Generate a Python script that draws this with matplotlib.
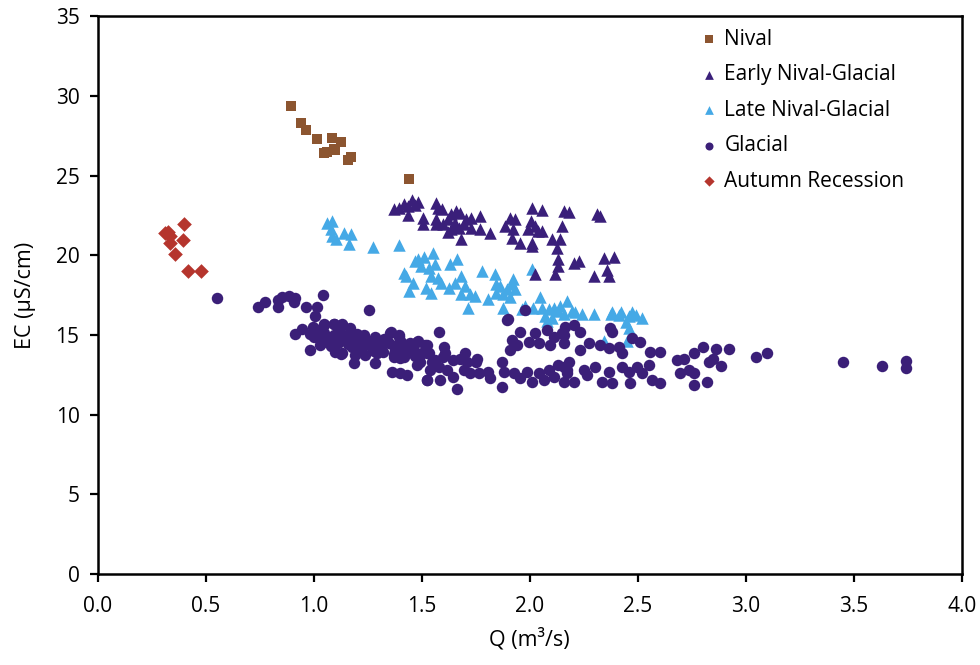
import matplotlib
matplotlib.use("Agg")
import matplotlib.pyplot as plt

plt.rcParams['font.family'] = ['Open Sans', 'DejaVu Sans']

# Nival
nival_q = [0.896, 0.943, 0.963, 1.014, 1.087, 1.126, 1.063, 1.094, 1.047, 1.172, 1.157, 1.10, 1.44]
nival_ec = [29.4, 28.3, 27.9, 27.3, 27.4, 27.1, 26.5, 26.7, 26.4, 26.2, 26.0, 26.6, 24.8]

# Autumn recession
autumn_q = [0.40, 0.312, 0.327, 0.335, 0.397, 0.335, 0.358, 0.417, 0.479]
autumn_ec = [22.0, 21.4, 21.5, 21.2, 21.0, 20.8, 20.1, 19.0, 19.0]

# Early Nival-Glacial
early_q = [1.374, 1.397, 1.420, 1.436, 1.454, 1.467, 1.482, 1.436, 1.505, 1.505,
           1.567, 1.575, 1.594, 1.567, 1.567, 1.622, 1.637, 1.660, 1.676, 1.653,
           1.637, 1.671, 1.696, 1.684, 1.707, 1.730, 1.769, 1.730, 1.769, 1.816,
           1.909, 1.932, 1.885, 1.924, 1.916, 1.955, 2.009, 2.059, 2.006, 1.994,
           2.025, 2.040, 2.059, 2.009, 2.009, 2.102, 2.141, 2.149, 2.126, 2.157,
           2.180, 2.312, 2.327, 2.133, 2.133, 2.118, 2.025, 2.203, 2.226, 2.343,
           2.389, 2.296, 2.358, 2.366, 1.60, 1.65, 1.62]
early_ec = [22.94, 23.0, 23.21, 23.11, 23.48, 23.15, 23.36, 22.52, 22.37, 21.96,
            23.27, 23.0, 22.90, 22.27, 21.96, 22.27, 22.58, 22.79, 22.69, 22.06,
            21.64, 21.75, 21.96, 21.02, 22.27, 22.37, 22.48, 21.75, 21.64, 21.43,
            22.37, 22.31, 21.85, 21.64, 21.12, 20.81, 23.0, 22.86, 22.17, 21.64,
            21.85, 21.54, 21.54, 20.81, 20.60, 21.02, 21.02, 21.85, 20.49, 22.79,
            22.73, 22.58, 22.48, 19.76, 19.34, 18.82, 18.82, 19.55, 19.66, 19.87,
            19.93, 18.72, 19.09, 18.72, 22.0, 21.9, 21.5]

# Late Nival-Glacial
late_q = [1.063, 1.087, 1.079, 1.087, 1.102, 1.141, 1.172, 1.164, 1.273, 1.397,
          1.420, 1.428, 1.467, 1.482, 1.498, 1.510, 1.552, 1.560, 1.536, 1.544,
          1.575, 1.591, 1.459, 1.443, 1.521, 1.544, 1.629, 1.665, 1.625, 1.653,
          1.684, 1.699, 1.684, 1.722, 1.746, 1.715, 1.777, 1.839, 1.846, 1.846,
          1.808, 1.878, 1.893, 1.924, 1.909, 2.009, 2.048, 2.017, 2.056, 2.087,
          2.110, 2.133, 2.172, 2.157, 2.211, 2.242, 2.296, 2.374, 2.413, 2.459,
          2.490, 2.521, 2.444, 2.459, 1.963, 2.071, 2.102, 1.862, 1.916, 1.932,
          1.877, 1.978, 2.195, 2.381, 2.420, 2.474, 2.451, 2.342, 2.079, 2.141]
late_ec = [22.06, 22.17, 21.64, 21.22, 21.02, 21.43, 21.33, 20.70, 20.50, 20.64,
           18.92, 18.72, 19.66, 19.76, 19.34, 19.93, 20.18, 19.45, 19.24, 18.72,
           18.61, 18.30, 18.30, 17.77, 17.98, 17.67, 19.45, 19.80, 17.98, 18.30,
           18.72, 18.09, 17.57, 17.57, 17.46, 16.73, 19.03, 18.82, 18.19, 17.67,
           17.25, 16.73, 17.88, 18.51, 17.36, 19.13, 17.36, 16.73, 16.73, 16.63,
           16.73, 16.52, 17.15, 16.31, 16.42, 16.31, 16.31, 16.31, 16.25, 16.21,
           16.25, 16.10, 15.79, 15.47, 16.63, 16.21, 16.10, 18.09, 18.20, 17.88,
           17.57, 16.84, 16.52, 16.42, 16.42, 16.42, 14.64, 14.64, 15.90, 16.84]

# Glacial
glacial_q = [0.555, 0.741, 0.777, 0.834, 0.834, 0.854, 0.885, 0.909, 0.916, 0.967,
             1.017, 1.045, 1.006, 1.257,
             0.914, 0.945, 0.984, 0.999, 1.046, 1.092, 1.130, 1.169, 1.030, 1.061,
             1.030, 0.984, 1.092, 1.115, 1.100, 1.130, 1.154, 1.177, 1.200, 1.231,
             1.215, 1.192, 1.238, 1.185, 1.254, 1.285, 1.308, 1.293, 1.285, 1.323,
             1.354, 1.347, 1.377, 1.393, 1.370, 1.401, 1.416, 1.431, 1.447, 1.478,
             1.470, 1.486, 1.478, 1.362, 1.401, 1.431, 1.524, 1.532, 1.524,
             1.048, 1.095, 1.133, 1.064, 1.110, 1.126, 1.157, 1.188, 1.203, 1.234,
             1.242, 1.219, 1.296, 1.327, 1.312, 1.358, 1.397, 1.374, 1.405, 1.374,
             1.420, 1.451, 1.482, 1.467, 1.490,
             1.000, 1.050, 1.120, 1.150, 1.250, 1.300, 1.330, 1.380, 1.420, 1.450,
             1.500, 1.550, 1.600, 1.280, 1.180, 1.080, 1.700, 1.750, 1.020, 1.160,
             1.578, 1.894, 1.516, 1.524, 1.562, 1.601, 1.609, 1.647, 1.678, 1.709,
             1.755, 1.539, 1.578, 1.616, 1.647, 1.694, 1.724, 1.763, 1.809, 1.817,
             1.524, 1.586, 1.663, 1.871, 1.879, 1.871, 1.917, 1.956, 1.941, 1.995,
             2.025, 2.041, 2.079, 2.110, 2.095, 2.149, 2.157, 1.910, 1.925, 1.956,
             1.987, 2.010, 2.041, 2.064, 2.087, 2.110, 2.133, 2.157, 2.172,
             1.978, 1.901,
             2.164, 2.203, 2.234, 2.157, 2.373, 2.380, 2.272, 2.234, 2.326, 2.365,
             2.411, 2.427, 2.473, 2.511, 2.558, 2.604, 2.157, 2.180, 2.172, 2.203,
             2.249, 2.264, 2.303, 2.365, 2.334, 2.380, 2.427, 2.457, 2.465, 2.496,
             2.519, 2.550, 2.565, 2.604, 2.681, 2.712, 2.696, 2.758, 2.804, 2.735,
             2.758, 2.758, 2.820, 2.828,
             2.862, 2.846, 2.885, 2.924, 3.048, 3.098, 3.448, 3.629, 3.741, 3.741]
glacial_ec = [17.30, 16.79, 17.09, 16.79, 17.21, 17.42, 17.46, 17.09, 17.30, 16.79,
              16.79, 17.51, 16.21, 16.59,
              15.06, 15.36, 15.06, 15.52, 15.63, 15.69, 15.63, 15.42, 14.90, 14.58,
              14.37, 14.06, 15.00, 14.48, 13.95, 13.85, 14.69, 14.27, 14.90, 15.00,
              14.37, 13.75, 13.75, 13.22, 14.37, 14.90, 14.48, 13.85, 13.22, 13.95,
              15.15, 14.48, 14.06, 14.90, 13.64, 13.54, 14.27, 13.85, 14.48, 14.58,
              13.95, 13.64, 13.12, 12.70, 12.60, 12.49, 14.37, 13.85, 12.18,
              15.69, 15.69, 15.69, 14.85, 14.75, 13.80, 14.43, 14.75, 15.06, 14.85,
              14.43, 14.12, 14.54, 14.75, 14.12, 15.21, 15.00, 14.33, 14.54, 13.80,
              14.01, 14.33, 14.64, 13.70, 13.28,
              14.90, 15.10, 15.20, 14.90, 14.60, 14.20, 14.60, 14.30, 13.60, 14.00,
              13.90, 13.30, 13.60, 14.00, 14.60, 14.30, 13.90, 13.30, 15.30, 15.00,
              15.21, 15.94, 14.37, 13.85, 13.43, 14.27, 13.85, 13.43, 13.53, 13.33,
              13.53, 12.80, 13.01, 12.80, 12.38, 12.80, 12.59, 12.59, 12.70, 12.28,
              12.18, 12.18, 11.59, 13.33, 12.70, 11.76, 14.69, 15.21, 14.37, 14.58,
              15.10, 14.48, 15.31, 14.90, 14.37, 15.10, 14.48, 14.06, 12.59, 12.28,
              12.70, 12.07, 12.59, 12.17, 12.80, 12.38, 13.12, 12.07, 12.80,
              16.59, 16.00,
              15.52, 15.63, 15.21, 15.00, 15.42, 15.21, 14.48, 14.06, 14.37, 14.16,
              14.27, 13.85, 14.79, 14.58, 13.95, 13.95, 13.01, 13.33, 12.59, 12.07,
              12.80, 12.49, 13.01, 12.70, 12.07, 11.97, 13.01, 12.70, 11.97, 13.01,
              12.59, 13.12, 12.17, 11.97, 13.43, 13.53, 12.59, 13.85, 14.27, 12.80,
              12.59, 11.86, 12.07, 13.33,
              14.12, 13.49, 13.07, 14.12, 13.60, 13.86, 13.28, 13.07, 13.38, 12.96]

fig = plt.figure(figsize=(9.8, 6.65), dpi=100)
ax = fig.add_axes([0.0995, 0.1368, 0.8821, 0.8384])

ms = 62
ax.scatter(nival_q, nival_ec, s=ms, marker='s', color='#8c5530', lw=0, label='Nival', zorder=3)
ax.scatter(early_q, early_ec, s=ms * 1.3, marker='^', color='#3a1f7a', lw=0, label='Early Nival-Glacial', zorder=3)
ax.scatter(late_q, late_ec, s=ms * 1.3, marker='^', color='#45a9e6', lw=0, label='Late Nival-Glacial', zorder=2)
ax.scatter(glacial_q, glacial_ec, s=ms * 1.1, marker='o', color='#3b1f78', lw=0, label='Glacial', zorder=3)
ax.scatter(autumn_q, autumn_ec, s=ms * 0.9, marker='D', color='#b5352d', lw=0, label='Autumn Recession', zorder=3)

ax.set_xlim(0, 4.0)
ax.set_ylim(0, 35)
ax.set_xticks([0.0, 0.5, 1.0, 1.5, 2.0, 2.5, 3.0, 3.5, 4.0])
ax.set_xticklabels(['0.0', '0.5', '1.0', '1.5', '2.0', '2.5', '3.0', '3.5', '4.0'])
ax.set_yticks(range(0, 36, 5))
ax.tick_params(labelsize=15, length=6, width=1.6, direction='out')
ax.tick_params(axis='x', pad=10)
ax.tick_params(axis='y', pad=7)
for sp in ax.spines.values():
    sp.set_linewidth(1.8)

ax.set_xlabel('Q (m³/s)', fontsize=15.5, labelpad=8)
ax.set_ylabel('EC (µS/cm)', fontsize=15.5, labelpad=14)

ax.legend(loc='upper left', bbox_to_anchor=(0.674, 1.012), frameon=False, fontsize=15,
          handlelength=1.0, handletextpad=0.22, labelspacing=0.7, markerscale=0.7)

plt.savefig('out.png', dpi=100)
